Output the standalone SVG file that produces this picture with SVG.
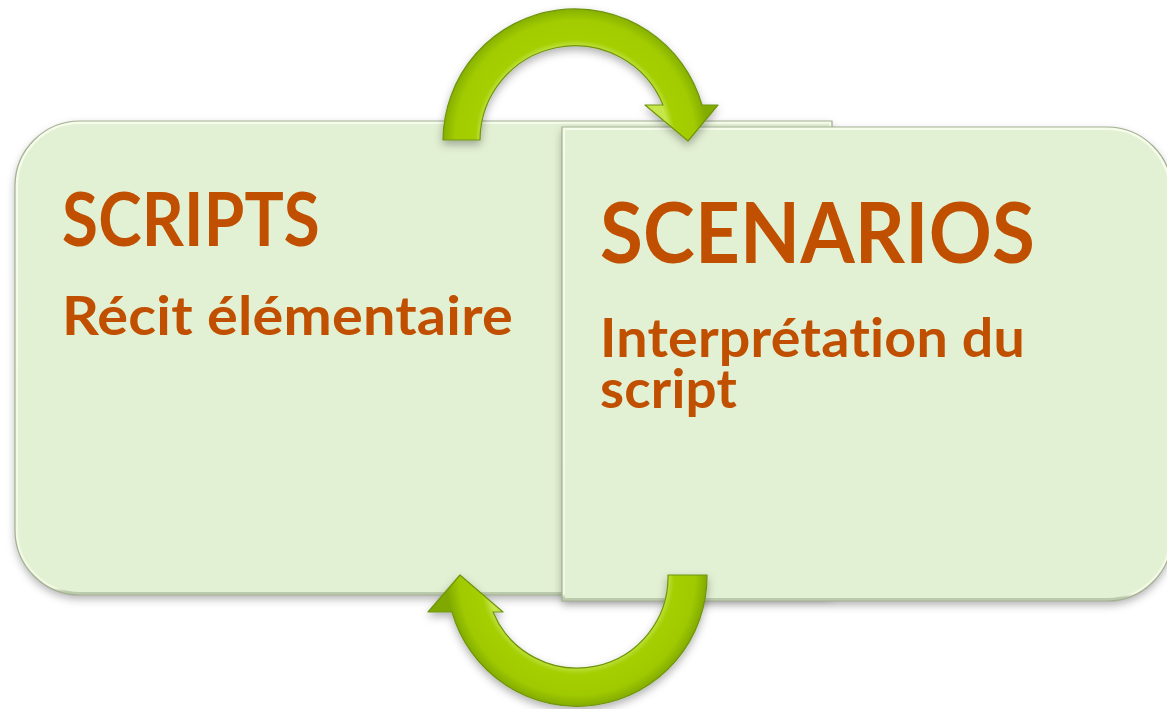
<svg xmlns="http://www.w3.org/2000/svg" width="1167" height="709" viewBox="0 0 1167 709">
  <style>
    .box { fill: #E2F0D3; }
    .rim { fill: none; stroke: url(#rimGrad); stroke-width: 6; }
    .edge { fill: none; stroke: #A3B093; stroke-width: 1.2; }
    .title { font-family: Lato, "Liberation Sans", sans-serif; font-weight: 700; fill: #C04F00; font-variant-ligatures: none; font-feature-settings: "liga" 0, "clig" 0; letter-spacing: 0.2px; }
    .arrow-edge { fill: none; stroke: #6F9410; stroke-width: 1.2; stroke-linejoin: round; }
  </style>
  <defs>
    <filter id="shadow" x="-10%" y="-10%" width="120%" height="130%">
      <feDropShadow dx="0" dy="4" stdDeviation="4" flood-color="#000" flood-opacity="0.3"/>
    </filter>
    <linearGradient id="rimGrad" x1="0" y1="0" x2="0" y2="1">
      <stop offset="0" stop-color="#F6FCEA"/>
      <stop offset="0.985" stop-color="#F1F9E3"/>
      <stop offset="0.993" stop-color="#BCCAAC"/>
      <stop offset="1" stop-color="#BCCAAC"/>
    </linearGradient>
    <radialGradient id="arcTop" gradientUnits="userSpaceOnUse" cx="575" cy="140" r="133">
      <stop offset="0.70" stop-color="#C6E64A"/>
      <stop offset="0.75" stop-color="#A6CF06"/>
      <stop offset="0.90" stop-color="#A2CC00"/>
      <stop offset="1" stop-color="#82AC00"/>
    </radialGradient>
    <radialGradient id="arcBot" gradientUnits="userSpaceOnUse" cx="577" cy="577" r="131">
      <stop offset="0.68" stop-color="#C6E64A"/>
      <stop offset="0.74" stop-color="#A6CF06"/>
      <stop offset="0.90" stop-color="#A0CA00"/>
      <stop offset="1" stop-color="#7FA800"/>
    </radialGradient>
    <clipPath id="clipLeft">
      <path d="M80 121 H832 V595 H80 A65 65 0 0 1 15 530 V186 A65 65 0 0 1 80 121 Z"/>
    </clipPath>
    <clipPath id="clipRight">
      <path d="M562 127 H1107 A65 65 0 0 1 1172 192 V536 A65 65 0 0 1 1107 601 H562 Z"/>
    </clipPath>
  </defs>

  <g id="node-scripts">
    <path class="box" filter="url(#shadow)" d="M80 121 H832 V595 H80 A65 65 0 0 1 15 530 V186 A65 65 0 0 1 80 121 Z"/>
    <path class="rim" clip-path="url(#clipLeft)" d="M80 121 H832 V595 H80 A65 65 0 0 1 15 530 V186 A65 65 0 0 1 80 121 Z"/>
    <path class="edge" d="M80 121 H832 V595 H80 A65 65 0 0 1 15 530 V186 A65 65 0 0 1 80 121 Z"/>
    <text class="title" x="62" y="246" font-size="74" textLength="258" lengthAdjust="spacingAndGlyphs">SCRIPTS</text>
    <text class="title" x="62" y="335" font-size="53" textLength="451" lengthAdjust="spacingAndGlyphs">Récit élémentaire</text>
  </g>

  <g id="node-scenarios">
    <path class="box" filter="url(#shadow)" d="M562 127 H1107 A65 65 0 0 1 1172 192 V536 A65 65 0 0 1 1107 601 H562 Z"/>
    <path class="rim" clip-path="url(#clipRight)" d="M562 127 H1107 A65 65 0 0 1 1172 192 V536 A65 65 0 0 1 1107 601 H562 Z"/>
    <path class="edge" d="M562 127 H1107 A65 65 0 0 1 1172 192 V536 A65 65 0 0 1 1107 601 H562 Z"/>
    <text class="title" x="600" y="263" font-size="84" textLength="435" lengthAdjust="spacingAndGlyphs">SCENARIOS</text>
    <text class="title" x="600" y="357" font-size="53" textLength="425" lengthAdjust="spacingAndGlyphs">Interprétation du</text>
    <text class="title" x="600" y="408" font-size="53" textLength="137" lengthAdjust="spacingAndGlyphs">script</text>
  </g>

  <g id="connectors">
    <g id="arrow-top" filter="url(#shadow)">
      <path fill="url(#arcTop)" d="M443 140 A132 132 0 0 1 702 105 L718 105 L688 141 L645 105 L663 105 A95 95 0 0 0 480 140 Z"/>
      <path class="arrow-edge" d="M443 140 A132 132 0 0 1 702 105 L718 105 L688 141 L645 105 L663 105 A95 95 0 0 0 480 140 Z"/>
    </g>
    <g id="arrow-bottom" filter="url(#shadow)">
      <path fill="url(#arcBot)" d="M668 575 L707 575 A130 130 0 0 1 452 612 L428 612 L460 575 L503 612 L493 612 A91 91 0 0 0 668 575 Z"/>
      <path class="arrow-edge" d="M668 575 L707 575 A130 130 0 0 1 452 612 L428 612 L460 575 L503 612 L493 612 A91 91 0 0 0 668 575 Z"/>
    </g>
  </g>
</svg>
